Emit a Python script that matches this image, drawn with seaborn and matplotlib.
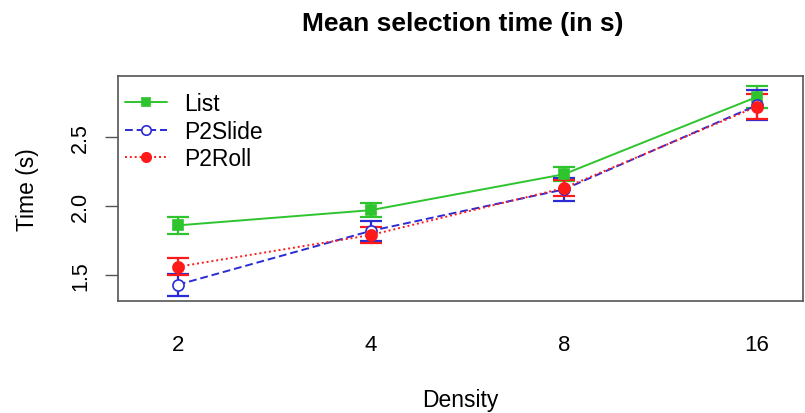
import pandas as pd
import matplotlib.pyplot as plt
import seaborn as sns

sns.set_theme(style="white")
plt.rcParams['font.family'] = ['Liberation Sans', 'DejaVu Sans']
plt.rcParams['text.color'] = 'black'
plt.rcParams['axes.labelcolor'] = 'black'
plt.rcParams['xtick.color'] = 'black'
plt.rcParams['ytick.color'] = 'black'

densities = ['2', '4', '8', '16']
techniques = ['List', 'P2Slide', 'P2Roll']

list_mean = [1.86, 1.97, 2.23, 2.79]
list_err = [0.06, 0.05, 0.05, 0.08]
slide_mean = [1.43, 1.82, 2.12, 2.73]
slide_err = [0.08, 0.07, 0.08, 0.11]
roll_mean = [1.56, 1.79, 2.13, 2.72]
roll_err = [0.06, 0.06, 0.06, 0.09]

colors = {'List': '#2ec42e', 'P2Slide': '#2b2bd6', 'P2Roll': '#ff1a1a'}
styles = {'List': '-', 'P2Slide': (0, (4, 2)), 'P2Roll': (0, (1, 1.5))}
markers = {'List': 's', 'P2Slide': 'o', 'P2Roll': 'o'}
msizes = {'List': 7, 'P2Slide': 8, 'P2Roll': 8}
faces = {'List': colors['List'], 'P2Slide': 'white', 'P2Roll': colors['P2Roll']}

rows = []
for name, means, errs in [('List', list_mean, list_err),
                          ('P2Slide', slide_mean, slide_err),
                          ('P2Roll', roll_mean, roll_err)]:
    for i, (m, e) in enumerate(zip(means, errs)):
        rows.append({'technique': name, 'pos': i, 'time': m, 'err': e})
df = pd.DataFrame(rows)

fig = plt.figure(figsize=(8.05, 4.14), dpi=100)
ax = fig.add_axes([0.1466, 0.2705, 0.851, 0.5435])

for name in techniques:
    sub = df[df['technique'] == name]
    ax.errorbar(sub['pos'], sub['time'], yerr=sub['err'], fmt='none',
                ecolor=colors[name], elinewidth=1.6, capsize=8, capthick=1.6, zorder=2)
    sns.lineplot(data=sub, x='pos', y='time', ax=ax, color=colors[name],
                 linestyle=styles[name], linewidth=1.4, marker=markers[name],
                 markersize=msizes[name], markerfacecolor=faces[name],
                 markeredgecolor=colors[name], markeredgewidth=1.2,
                 label=name, zorder=3)

ax.set_xlim(-0.31, 3.24)
ax.set_ylim(1.312, 2.942)
ax.set_xticks(range(len(densities)))
ax.set_xticklabels(densities)
ax.set_yticks([1.5, 2.0, 2.5])
ax.set_yticklabels(['1.5', '2.0', '2.5'], rotation=90, va='center')
ax.tick_params(axis='x', length=0, pad=23.5, labelsize=16)
ax.tick_params(axis='y', left=True, length=9.5, width=1, color='#555555',
               pad=10, labelsize=15.5)
for s in ax.spines.values():
    s.set_color('#555555')
    s.set_linewidth(1.2)

ax.set_xlabel('Density', fontsize=16.5, labelpad=24)
ax.set_ylabel('Time (s)', fontsize=16.5, labelpad=22)
fig.suptitle('Mean selection time (in s)', fontsize=19, fontweight='bold',
             x=0.575, y=0.972)

leg = ax.legend(loc='upper left', bbox_to_anchor=(0.0, 0.958), frameon=False,
                fontsize=16.5, handlelength=1.85, handletextpad=0.75,
                labelspacing=0.2, borderpad=0.3, borderaxespad=0,
                markerscale=0.85)

fig.savefig('out.png', dpi=100, facecolor='white')
